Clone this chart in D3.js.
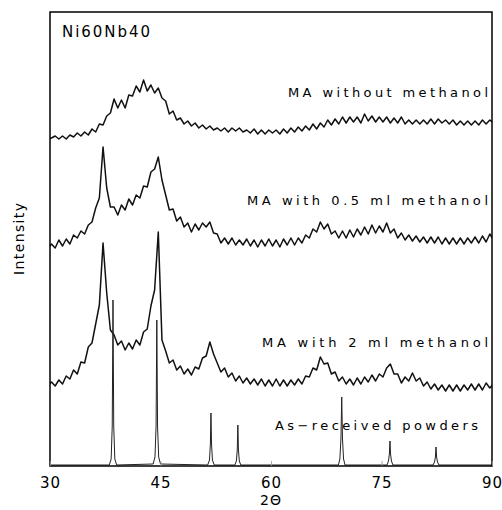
<!DOCTYPE html>
<html><head><meta charset="utf-8">
<script src="https://cdn.jsdelivr.net/npm/d3@7"></script>
<style>body{margin:0;background:#fff}</style>
</head><body><svg id="c" width="502" height="510"></svg>
<script>
// ---- data ----
const gridStart = 29.7, gridStep = 0.5;           // 2θ sampling of the measured patterns
const xTicks = [30, 45, 60, 75, 90];
const title = "Ni60Nb40";
const seriesLabels = ["MA without methanol", "MA with 0.5 ml methanol", "MA with 2 ml methanol", "As\u2212received powders"];

// intensity (arbitrary units, curves offset vertically as in the figure)
const noMethanol = [327,
 328,330,327,330,327,331,329,333,330,334,
 331,337,334,342,341,350,353,367,358,366,
 358,371,370,380,374,386,375,381,373,378,
 368,365,352,355,346,348,342,345,340,343,
 338,341,337,340,336,338,335,338,334,338,
 335,338,334,336,333,337,332,336,332,336,
 333,336,332,337,333,338,334,339,335,340,
 336,342,337,343,339,346,341,347,342,349,
 343,349,344,349,343,352,345,350,344,349,
 344,349,343,348,343,349,342,346,342,346,
 342,346,342,347,342,347,343,346,342,346,
 341,345,341,345,341,345,341,346,342,346,
 343];
const halfMlMethanol = [
 217,222,218,226,220,227,222,231,228,235,
 232,241,244,258,268,319,278,259,259,251,
 261,256,267,261,271,268,280,279,294,297,
 309,286,271,256,257,245,249,239,243,234,
 242,236,243,239,244,233,232,223,228,222,
 228,221,226,221,227,220,226,219,226,220,
 227,220,226,219,227,221,228,221,228,223,
 231,228,237,234,244,237,242,232,235,228,
 235,228,236,229,237,231,239,232,241,233,
 240,234,243,233,237,228,233,226,231,225,
 230,224,229,223,229,223,229,222,228,222,
 228,222,228,222,228,223,229,223,230,224,
 232,226];
const twoMlMethanol = [
 80,84,80,86,82,90,87,96,92,104,
 103,119,123,142,161,223,173,136,131,121,
 125,116,123,117,126,121,134,137,160,176,
 234,126,115,103,106,96,100,92,97,91,
 99,97,108,110,124,112,103,94,98,89,
 93,85,90,83,88,82,87,81,87,80,
 86,80,87,80,86,80,86,81,87,82,
 90,89,98,96,109,102,103,92,94,85,
 89,82,87,81,88,82,89,84,91,85,
 92,89,98,102,92,92,83,89,85,93,
 85,88,80,84,77,82,76,81,75,81,
 75,81,75,81,76,82,76,82,76,83,
 78,82];
const asReceivedAngles = [30,
 38.05,38.3,38.45,38.55,38.65,38.8,39.05,
 44.0,44.25,44.4,44.5,44.6,44.75,45.0,
 51.4,51.65,51.77,51.85,51.93,52.05,52.3,
 55.1,55.3,55.42,55.5,55.58,55.7,55.9,
 69.15,69.35,69.5,69.6,69.7,69.85,70.05,
 75.75,75.95,76.07,76.15,76.23,76.35,76.55,
 82.0,82.2,82.32,82.4,82.48,82.6,82.8,
 90];
const asReceivedValues = [1,
 1,7,40,166,40,7,1,
 2,9,40,146,40,9,2,
 1,6,22,53,22,6,1,
 1,5,16,41,16,5,1,
 1,7,28,69,28,7,1,
 1,5,12,25,12,5,1,
 1,4,9,19,9,4,1,
 1];

// ---- layout ----
const plotLeft = 50, plotRight = 492, plotTop = 12, plotBottom = 466;
const svg = d3.select("#c");
const x = d3.scaleLinear().domain([30, 90]).range([plotLeft, plotRight]);
const y = d3.scaleLinear().domain([0, 454]).range([plotBottom, plotTop]);
const font = "'DejaVu Sans', sans-serif";

svg.append("defs").append("clipPath").attr("id", "plot")
  .append("rect").attr("x", plotLeft).attr("y", plotTop).attr("width", plotRight - plotLeft).attr("height", plotBottom - plotTop);

const g = svg.append("g").attr("clip-path", "url(#plot)");
const line = d3.line().x(d => x(d[0])).y(d => y(d[1]));
const grid = i => gridStart + gridStep * i;

[noMethanol, halfMlMethanol, twoMlMethanol].forEach(s => {
  g.append("path")
    .datum(s.map((v, i) => [grid(i), v]))
    .attr("d", line)
    .attr("fill", "none")
    .attr("stroke", "#111")
    .attr("stroke-width", 1.5)
    .attr("stroke-linejoin", "round");
});
g.append("path")
  .datum(asReceivedAngles.map((a, i) => [a, asReceivedValues[i]]))
  .attr("d", line)
  .attr("fill", "none")
  .attr("stroke", "#222")
  .attr("stroke-width", 1);

// frame
svg.append("rect").attr("x", plotLeft).attr("y", plotTop).attr("width", plotRight - plotLeft).attr("height", plotBottom - plotTop)
  .attr("fill", "none").attr("stroke", "#000").attr("stroke-width", 1.5);

// x axis
const ax = svg.append("g").attr("transform", `translate(0,${plotBottom})`)
  .call(d3.axisBottom(x).tickValues(xTicks).tickSizeInner(-5).tickSizeOuter(0).tickPadding(11));
ax.select(".domain").remove();
ax.selectAll(".tick line").attr("stroke", "#999").attr("stroke-width", 0.8);
ax.selectAll(".tick text").attr("font-family", font).attr("font-size", 15)
  .attr("letter-spacing", "1px").attr("fill", "#000");

svg.append("text").attr("x", 271).attr("y", 505).attr("text-anchor", "middle")
  .attr("font-family", font).attr("font-size", 14).attr("letter-spacing", "1px").text("2\u0398");

svg.append("text").attr("transform", "translate(23.5,239) rotate(-90)").attr("text-anchor", "middle")
  .attr("font-family", font).attr("font-size", 14).attr("textLength", 72).attr("lengthAdjust", "spacing")
  .text("Intensity");

svg.append("text").attr("x", 62).attr("y", 37).attr("font-family", font).attr("font-size", 15)
  .attr("textLength", 88).attr("lengthAdjust", "spacing").text(title);

const labelPos = [[288, 97, 200], [247, 205, 241], [262, 347, 226], [275, 430, 203]];
seriesLabels.forEach((t, i) => {
  const [lx, ly, len] = labelPos[i];
  svg.append("text").attr("x", lx).attr("y", ly).attr("font-family", font).attr("font-size", 13)
    .attr("textLength", len).attr("lengthAdjust", "spacing").text(t);
});
</script>
</body></html>
